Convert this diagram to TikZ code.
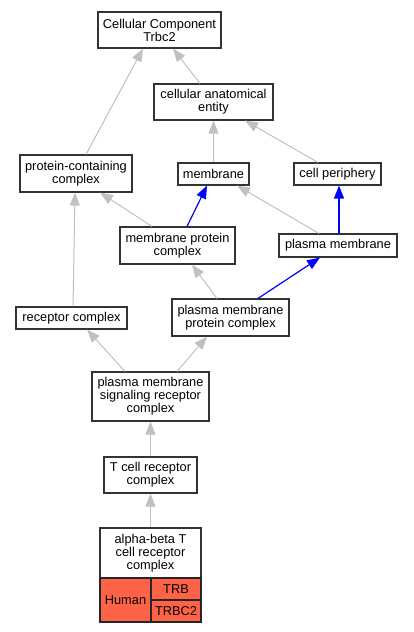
\documentclass[tikz,border=0pt]{standalone}
\usepackage{fontspec}
\setmainfont{Liberation Sans}
\usetikzlibrary{arrows.meta}
\definecolor{edgegray}{HTML}{C0C0C0}
\definecolor{boxline}{HTML}{333333}
\definecolor{tomatofill}{HTML}{FF6347}
\tikzset{
  box/.style={draw=boxline, line width=1.1pt, fill=white, inner sep=0pt, align=center,
    font=\fontsize{12.8}{13}\selectfont, text=black},
  cell/.style={box, fill=tomatofill, draw=black!85},
  gedge/.style={draw=edgegray, line width=1pt, -{Triangle[length=13pt,width=10pt]}},
  bedge/.style={draw=blue, line width=1.2pt, -{Triangle[length=13pt,width=10pt]}}
}
\begin{document}
\begin{tikzpicture}[x=1pt,y=-1pt]
\useasboundingbox (0,0) rectangle (413,632);
% nodes
\node[box, minimum width=123pt, minimum height=36pt] (cc) at (159.5,30) {Cellular Component\\Trbc2};
\node[box, minimum width=119pt, minimum height=36pt] (cae) at (213.5,102) {cellular anatomical\\entity};
\node[box, minimum width=112pt, minimum height=37pt] (pcc) at (76,173.5) {protein-containing\\complex};
\node[box, minimum width=71pt, minimum height=22pt] (mem) at (213.5,174) {membrane};
\node[box, minimum width=87pt, minimum height=22pt] (cp) at (337.5,174) {cell periphery};
\node[box, minimum width=115pt, minimum height=37pt] (mpc) at (177.5,245.5) {membrane protein\\complex};
\node[box, minimum width=118pt, minimum height=23pt] (pm) at (338,245.5) {plasma membrane};
\node[box, minimum width=111pt, minimum height=22pt] (rc) at (71.5,318) {receptor complex};
\node[box, minimum width=117pt, minimum height=37pt] (pmpc) at (230.5,317.5) {plasma membrane\\protein complex};
\node[box, minimum width=117pt, minimum height=49pt] (pmsrc) at (150.5,396.5) {plasma membrane\\signaling receptor\\complex};
\node[box, minimum width=93pt, minimum height=36pt] (tcr) at (150.5,475) {T cell receptor\\complex};
\node[box, minimum width=101pt, minimum height=50pt] (ab) at (150.5,553) {alpha-beta T\\cell receptor\\complex};
\node[cell, minimum width=51pt, minimum height=44pt] (human) at (125.5,600) {Human};
\node[cell, minimum width=50pt, minimum height=22pt] (trb) at (176,589) {TRB};
\node[cell, minimum width=50pt, minimum height=22pt] (trbc) at (176,611) {TRBC2};
% edges
\draw[gedge] ([xshift=10pt]pcc.north) -- ([xshift=-16.5pt]cc.south);
\draw[gedge] ([xshift=-13.5pt]cae.north) -- ([xshift=13.5pt]cc.south);
\draw[gedge] (mem.north) -- (cae.south);
\draw[gedge] ([xshift=-19.5pt]cp.north) -- ([xshift=31.5pt]cae.south);
\draw[bedge] ([xshift=9.5pt]mpc.north) -- ([xshift=-6.5pt]mem.south);
\draw[gedge] ([xshift=-19pt]pm.north) -- ([xshift=23.5pt]mem.south);
\draw[bedge] ([xshift=1pt]pm.north) -- ([xshift=1.5pt]cp.south);
\draw[gedge] ([xshift=-25.5pt]mpc.north) -- ([xshift=24pt]pcc.south);
\draw[gedge] ([xshift=1.5pt]rc.north) -- ([xshift=-1pt]pcc.south);
\draw[gedge] ([xshift=-13.5pt]pmpc.north) -- ([xshift=14.5pt]mpc.south);
\draw[bedge] ([xshift=27.5pt]pmpc.north) -- ([xshift=-18pt]pm.south);
\draw[gedge] ([xshift=-25.5pt]pmsrc.north) -- ([xshift=15.5pt]rc.south);
\draw[gedge] ([xshift=26.5pt]pmsrc.north) -- ([xshift=-23.5pt]pmpc.south);
\draw[gedge] (tcr.north) -- (pmsrc.south);
\draw[gedge] (ab.north) -- (tcr.south);
\end{tikzpicture}
\end{document}
